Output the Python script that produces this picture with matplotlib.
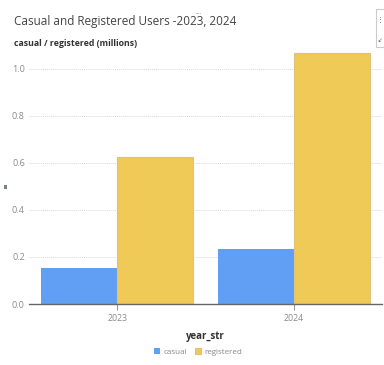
import numpy as np
import matplotlib.pyplot as plt
from matplotlib.patches import Rectangle

plt.rcParams['font.family'] = ['Open Sans', 'DejaVu Sans']

years = ['2023', '2024']
casual = [0.154, 0.234]
registered = [0.623, 1.067]
yticks = [0.0, 0.2, 0.4, 0.6, 0.8, 1.0]

fig = plt.figure(figsize=(3.84, 3.65), dpi=100)
ax = fig.add_axes([29/384, 1-304/365, 353/384, (304-45)/365])

x = np.arange(len(years))
w = 0.43
ax.bar(x - w/2, casual, w, color='#619ff5', edgecolor='none', label='casual', zorder=2)
ax.bar(x + w/2, registered, w, color='#f0ca57', edgecolor='#dcc27a', linewidth=0.8,
       label='registered', zorder=2)

ax.set_xlim(-0.5, 1.5)
ax.set_ylim(0, 1.1)
ax.set_yticks(yticks)
ax.set_yticklabels(['%.1f' % v for v in yticks])
ax.set_xticks(x)
ax.set_xticklabels(years)
ax.grid(axis='y', color='#d8d8d8', linestyle=(0, (1, 1)), linewidth=0.7, zorder=0)

for s in ['top', 'right', 'left']:
    ax.spines[s].set_visible(False)
ax.spines['bottom'].set_color('#666666')
ax.spines['bottom'].set_linewidth(1.0)
ax.tick_params(axis='y', length=0, labelsize=6.5, labelcolor='#8a8a8a', pad=3)
ax.tick_params(axis='x', length=4, color='#999999', labelsize=6.3, labelcolor='#8a8a8a', pad=3)

ax.set_xlabel('year_str', fontsize=7, fontweight='bold', color='#333333', labelpad=6)

fig.text(14/384, 1-22/365, 'Casual and Registered Users -2023, 2024', fontsize=8.5,
         color='#444444', va='center', ha='left')
fig.text(14/384, 1-44/365, 'casual / registered (millions)', fontsize=6.3,
         fontweight='bold', color='#333333', va='center', ha='left')
fig.text(199/384, 1-13/365, '....', fontsize=4, color='#555555', ha='center', va='center')

# collapsed y label marker and toolbar box at the right edge
fig.add_artist(Rectangle((4/384, 1-189/365), 3/384, 4/365, transform=fig.transFigure,
                         facecolor='#7a7f8c', edgecolor='none'))
fig.add_artist(Rectangle((376/384, 1-47/365), 10/384, 38/365, transform=fig.transFigure,
                         facecolor='white', edgecolor='#cccccc', linewidth=0.8))
fig.text(380/384, 1-20/365, '⋮', fontsize=5, color='#555555', ha='center', va='center')
fig.text(380/384, 1-41/365, '↙', fontsize=4, color='#555555', ha='center', va='center')

fig.legend(loc='center', bbox_to_anchor=(198/384, 1-352/365), ncol=2, frameon=False,
           fontsize=5.8, labelcolor='#888888', handlelength=0.8, handleheight=0.8,
           handletextpad=0.4, columnspacing=1.0)

fig.savefig('out.png', dpi=100)
